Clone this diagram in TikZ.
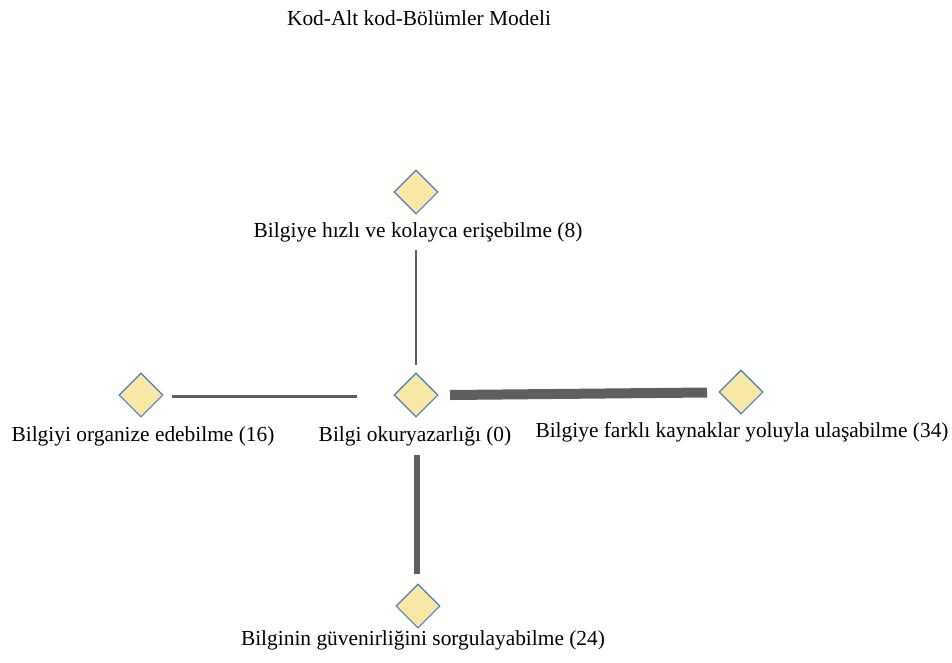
\documentclass[tikz,border=0pt]{standalone}
\usepackage{fontspec}
\setmainfont{Liberation Serif}
\usetikzlibrary{shapes.geometric}
\definecolor{codefill}{HTML}{F9E7A6}
\definecolor{codeedge}{HTML}{4A7EBB}
\definecolor{linkgray}{HTML}{5F5F5F}
\tikzset{
  code/.style={diamond, draw=codeedge, fill=codefill, line width=1.1pt,
    minimum width=44pt, minimum height=44pt, inner sep=0pt},
  codelabel/.style={font=\fontsize{21.4}{24}\selectfont, inner sep=0pt, anchor=center},
  link/.style={draw=linkgray, line cap=butt}
}
\begin{document}
\begin{tikzpicture}[x=1pt, y=-1pt]
  \useasboundingbox (0,0) rectangle (952,662);
  % title
  \node[codelabel] (title) at (419,18) {Kod-Alt kod-Bölümler Modeli};
  % code diamonds
  \node[code] (center) at (416,395) {};
  \node[code] (top) at (416,192) {};
  \node[code] (left) at (141,395) {};
  \node[code] (right) at (741,392) {};
  \node[code] (bottom) at (418,606) {};
  % labels
  \node[codelabel] (lcenter) at (415,436) {Bilgi okuryazarlığı (0)};
  \node[codelabel] (ltop) at (418,232) {Bilgiye hızlı ve kolayca erişebilme (8)};
  \node[codelabel] (lleft) at (143,436) {Bilgiyi organize edebilme (16)};
  \node[codelabel] (lright) at (742,432) {Bilgiye farklı kaynaklar yoluyla ulaşabilme (34)};
  \node[codelabel] (lbottom) at (423,640) {Bilginin güvenirliğini sorgulayabilme (24)};
  % end points of the links
  \coordinate (t1) at (416,250); \coordinate (t2) at (416,365);
  \coordinate (l1) at (172,396); \coordinate (l2) at (357,396);
  \coordinate (r1) at (450,395); \coordinate (r2) at (707,392.5);
  \coordinate (b1) at (417,455); \coordinate (b2) at (417,574);
  % links
  \draw[link, line width=1.5pt] (t1) -- (t2);
  \draw[link, line width=3pt] (l1) -- (l2);
  \draw[link, line width=10pt] (r1) -- (r2);
  \draw[link, line width=6.5pt] (b1) -- (b2);
\end{tikzpicture}
\end{document}
